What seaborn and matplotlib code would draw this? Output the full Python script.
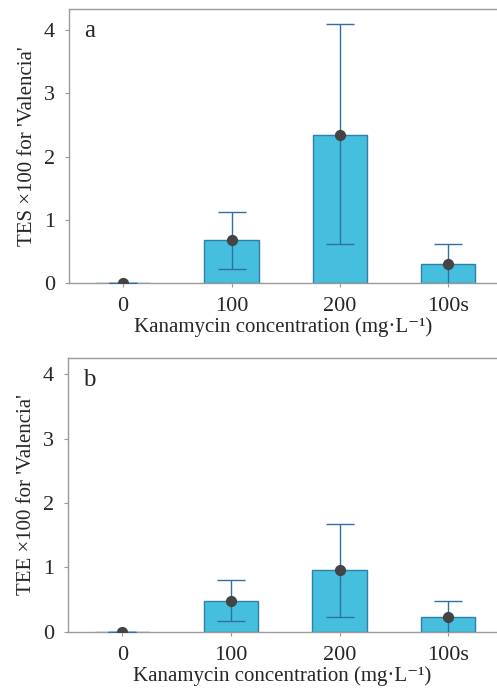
import matplotlib
matplotlib.use("Agg")
import matplotlib.pyplot as plt
import seaborn as sns
import pandas as pd

# data
groups = ["0", "100", "200", "100s"]

tes_mean = [0.0, 0.68, 2.34, 0.30]
tes_low = [0.0, 0.22, 0.62, -0.05]
tes_high = [0.0, 1.12, 4.09, 0.62]

tee_mean = [0.0, 0.48, 0.96, 0.23]
tee_low = [0.0, 0.17, 0.23, -0.05]
tee_high = [0.0, 0.80, 1.68, 0.48]

panels = [
    ("a", "TES \u00d7100 for 'Valencia'", tes_mean, tes_low, tes_high, 4.33),
    ("b", "TEE \u00d7100 for 'Valencia'", tee_mean, tee_low, tee_high, 4.25),
]

sns.set_theme(style="white")
plt.rcParams["font.family"] = ["Liberation Serif", "DejaVu Serif"]

BAR = "#45bfdd"
EDGE = "#2f7fa6"
ERR = "#2f6ea6"
DOT = "#444444"
SPINE = "#9a9a9a"

fig = plt.figure(figsize=(4.97, 6.89), dpi=100)
positions = [
    [69 / 497, 0.589, 1 - 69 / 497, 0.398],
    [68 / 497, 0.083, 1 - 68 / 497, 0.397],
]

for pos, (tag, ylabel, mean, low, high, ytop) in zip(positions, panels):
    ax = fig.add_axes(pos)
    df = pd.DataFrame({"group": groups, "value": mean})
    sns.barplot(data=df, x="group", y="value", ax=ax, color=BAR,
                saturation=1, width=0.5, errorbar=None,
                edgecolor=EDGE, linewidth=1.0)
    xs = list(range(len(groups)))
    yerr = [[m - l for m, l in zip(mean, low)],
            [h - m for m, h in zip(mean, high)]]
    ax.errorbar(xs, mean, yerr=yerr, fmt="none", ecolor=ERR,
                elinewidth=1.0, capsize=10, capthick=1.0, zorder=3)
    ax.scatter(xs, mean, s=50, color=DOT, zorder=4)

    ax.set_xlim(-0.5, 3.45)
    ax.set_ylim(0, ytop)
    ax.set_yticks([0, 1, 2, 3, 4])
    ax.set_xlabel("Kanamycin concentration (mg\u00b7L\u207b\u00b9)", fontsize=15, labelpad=1)
    ax.set_ylabel(ylabel, fontsize=15, labelpad=5)
    ax.tick_params(axis="x", labelsize=16, length=3, width=0.8,
                   color=SPINE, pad=7, bottom=True)
    ax.tick_params(axis="y", labelsize=16, length=3, width=0.8,
                   color=SPINE, pad=7, left=True)
    for side in ["left", "top", "bottom"]:
        ax.spines[side].set_color(SPINE)
        ax.spines[side].set_linewidth(1.0)
    ax.spines["right"].set_visible(False)
    ax.text(0.035, 0.92, tag, transform=ax.transAxes, fontsize=18,
            va="center", ha="left",
            bbox=dict(facecolor="white", edgecolor="none", pad=2))

fig.savefig("out.png", dpi=100)
